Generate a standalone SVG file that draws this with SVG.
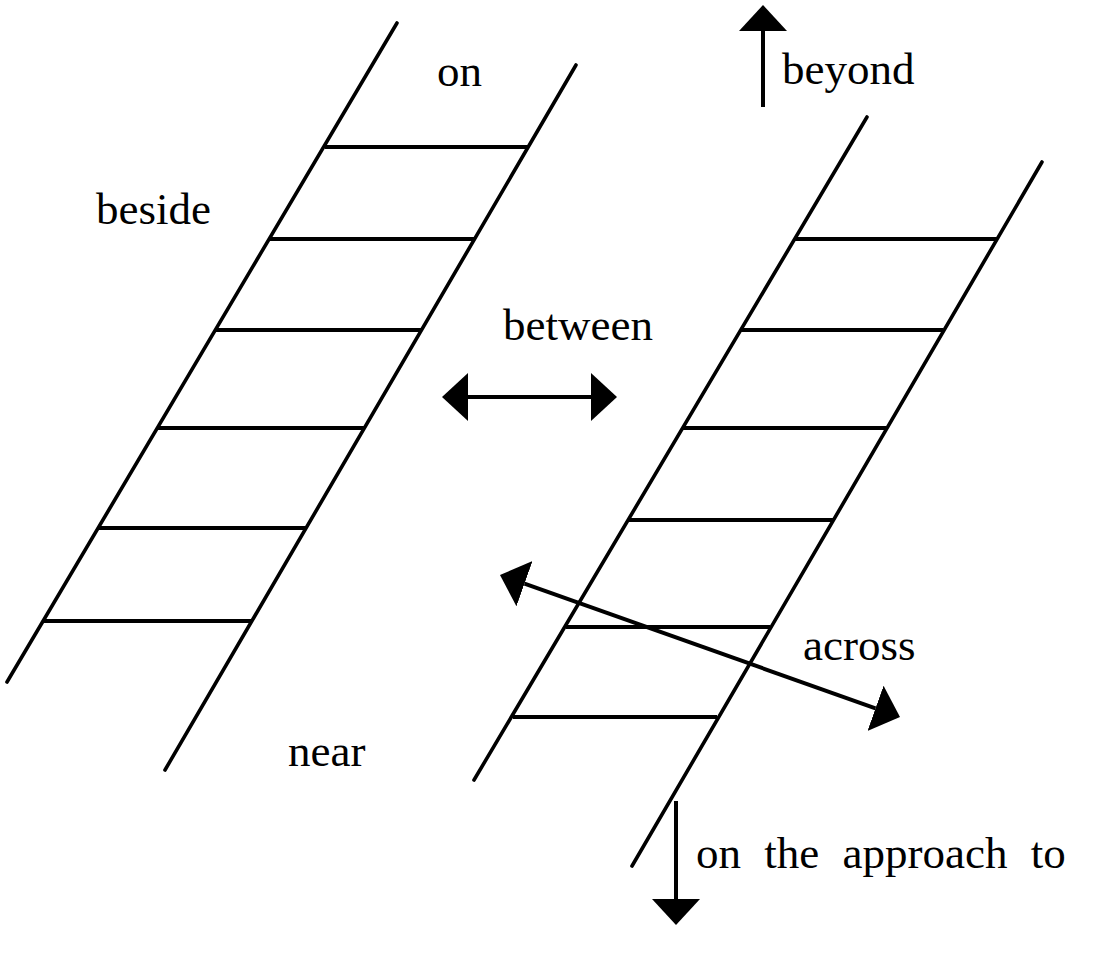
<svg xmlns="http://www.w3.org/2000/svg" width="1094" height="980" viewBox="0 0 1094 980">
  <style>
    .rail { stroke: #000; stroke-width: 3.6; stroke-linecap: round; fill: none; }
    .rung { stroke: #000; stroke-width: 4; fill: none; }
    .shaft { stroke: #000; stroke-width: 4; fill: none; }
    .lbl { font-family: "Liberation Serif", "Times New Roman", serif; font-size: 45px; fill: #000; }
  </style>
  <defs>
    <marker id="head" viewBox="0 0 26 48" refX="0" refY="24" markerWidth="26" markerHeight="48" markerUnits="userSpaceOnUse" orient="auto-start-reverse">
      <path d="M0,0 L26,24 L0,48 Z" fill="#000"/>
    </marker>
  </defs>
  <rect width="1094" height="980" fill="#fff"/>

  <g id="ladder-left">
    <line class="rail" x1="397" y1="23" x2="7" y2="682"/>
    <line class="rail" x1="576" y1="65" x2="165" y2="770"/>
    <line class="rung" x1="325" y1="147" x2="528" y2="147"/>
    <line class="rung" x1="269" y1="239" x2="475" y2="239"/>
    <line class="rung" x1="215" y1="330" x2="421" y2="330"/>
    <line class="rung" x1="157" y1="428" x2="364" y2="428"/>
    <line class="rung" x1="98" y1="528" x2="306" y2="528"/>
    <line class="rung" x1="43" y1="621" x2="252" y2="621"/>
  </g>

  <g id="ladder-right">
    <line class="rail" x1="867" y1="117" x2="474" y2="780"/>
    <line class="rail" x1="1042" y1="162" x2="632" y2="866"/>
    <line class="rung" x1="795" y1="239" x2="997" y2="239"/>
    <line class="rung" x1="741" y1="330" x2="943" y2="330"/>
    <line class="rung" x1="683" y1="428" x2="886" y2="428"/>
    <line class="rung" x1="629" y1="520" x2="833" y2="520"/>
    <line class="rung" x1="566" y1="627" x2="770" y2="627"/>
    <line class="rung" x1="513" y1="717" x2="717" y2="717"/>
  </g>

  <g id="connectors">
    <line id="arrow-between" class="shaft" x1="468" y1="397" x2="591" y2="397" marker-start="url(#head)" marker-end="url(#head)"/>
    <line id="arrow-beyond" class="shaft" x1="763" y1="107" x2="763" y2="31" marker-end="url(#head)"/>
    <line id="arrow-approach" class="shaft" x1="676" y1="801" x2="676" y2="899" marker-end="url(#head)"/>
    <line id="arrow-across" class="shaft" x1="524.5" y1="583.7" x2="875.5" y2="708.3" marker-start="url(#head)" marker-end="url(#head)"/>
  </g>

  <g id="label-on"><text class="lbl" x="437" y="86">on</text></g>
  <g id="label-beside"><text class="lbl" x="96" y="224">beside</text></g>
  <g id="label-between"><text class="lbl" x="503" y="340">between</text></g>
  <g id="label-beyond"><text class="lbl" x="782" y="84">beyond</text></g>
  <g id="label-near"><text class="lbl" x="288" y="766">near</text></g>
  <g id="label-across"><text class="lbl" x="803" y="660">across</text></g>
  <g id="label-approach"><text class="lbl" x="696" y="868" word-spacing="12">on the approach to</text></g>
</svg>
